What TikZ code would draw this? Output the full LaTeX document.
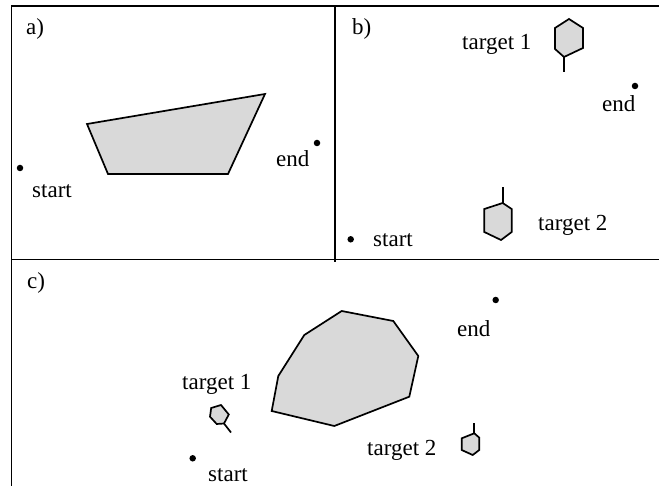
\documentclass[tikz,border=0pt]{standalone}
\usepackage{fontspec}
\setmainfont{Liberation Serif}
\tikzset{
	frame/.style={line width=1.8pt},
	obstacle/.style={draw, fill=gray!30, line width=1.7pt, line join=miter},
	stick/.style={line width=1.7pt},
	point/.style={circle, fill=black, inner sep=0pt, minimum size=6.5pt},
	tag/.style={anchor=base west, inner sep=0pt, font=\fontsize{23}{28}\selectfont}
}

\begin{document}
\begin{tikzpicture}[x=1pt, y=-1pt]
			\useasboundingbox (0,0) rectangle (659,486);

			\draw[frame]	(11.5,486) to (11.5,5.7) to (659,5.7);
			\draw[frame]	(11.5,259.5) to (659,259.5);
			\draw[frame]	(335,5.7) to (335,262);

			\node[tag] (a-name) at (26,35) {a)};
			\draw[obstacle]	(87,124) -- (265,94) -- (228,174) -- (108,174) -- cycle;
			\node[point] (a-start) at (20,168) {};
			\node[tag] (a-start-text) at (32,198) {start};
			\node[point] (a-end) at (317,143) {};
			\node[tag] (a-end-text) at (276,167) {end};

			\node[tag] (b-name) at (352,35) {b)};
			\draw[obstacle]	(569,19) -- (583,28) -- (583,48) -- (564,57) coordinate (b-t1-base) -- (555,49) -- (555,28) -- cycle;
			\coordinate (b-t1-tip) at (564,72);
			\draw[stick]	(b-t1-base) to (b-t1-tip);
			\node[tag] (b-t1-text) at (462,50) {target 1};
			\node[point] (b-end) at (635,86) {};
			\node[tag] (b-end-text) at (602,112) {end};
			\draw[obstacle]	(502.7,203) coordinate (b-t2-base) -- (511.7,209) -- (511.7,232) -- (501,240) -- (484.3,232) -- (484.3,209) -- cycle;
			\coordinate (b-t2-tip) at (502.7,187);
			\draw[stick]	(b-t2-base) to (b-t2-tip);
			\node[tag] (b-t2-text) at (538,231) {target 2};
			\node[point] (b-start) at (350.7,239.3) {};
			\node[tag] (b-start-text) at (373,247) {start};

			\node[tag] (c-name) at (27,289) {c)};
			\draw[obstacle]	(341.7,311) -- (393.3,321) -- (418.3,356) -- (409.3,396.7) -- (334.3,426) -- (271.7,411) -- (278.3,376) -- (304.3,335) -- cycle;
			\draw[obstacle]	(211.2,408) -- (221,405) -- (228.8,414.5) -- (224,423.5) coordinate (c-t1-base) -- (216.7,424) -- (210,416.7) -- cycle;
			\coordinate (c-t1-tip) at (231,432.5);
			\draw[stick]	(c-t1-base) to (c-t1-tip);
			\node[tag] (c-t1-text) at (182,390) {target 1};
			\node[point] (c-start) at (192.7,458.3) {};
			\node[tag] (c-start-text) at (208,481.7) {start};
			\node[point] (c-end) at (495.7,300) {};
			\node[tag] (c-end-text) at (457,337) {end};
			\draw[obstacle]	(474.3,433.3) coordinate (c-t2-base) -- (479.3,437.7) -- (479.3,450) -- (472.7,455) -- (461.7,450) -- (461.7,438.3) -- cycle;
			\coordinate (c-t2-tip) at (474.3,422.7);
			\draw[stick]	(c-t2-base) to (c-t2-tip);
			\node[tag] (c-t2-text) at (367,455) {target 2};
		\end{tikzpicture}
\end{document}
